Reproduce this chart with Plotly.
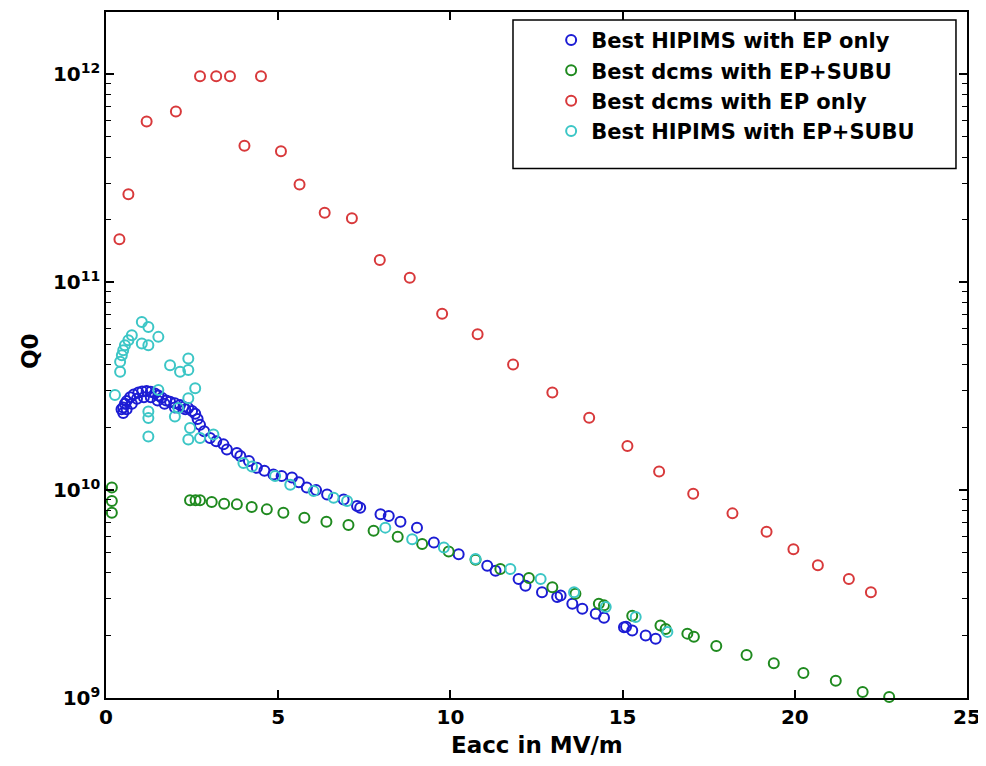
import plotly.graph_objects as go

# ---------------- data ----------------
hipims_ep_x = [0.45, 0.5, 0.55, 0.6, 0.7, 0.8, 0.94, 1.05, 1.18, 1.3, 1.42, 1.52, 1.62, 1.75, 1.86,
               2.0, 2.15, 2.25, 2.39, 2.5, 2.59, 2.66, 2.73, 2.85, 3.02, 3.2, 3.41, 3.51, 3.8, 3.9,
               4.15, 4.38, 4.6, 4.86, 5.1, 5.4, 5.6, 5.83, 6.1, 6.42, 6.9, 7.29, 7.38, 7.97, 8.21,
               8.55, 9.03, 9.52, 10.24, 11.07, 11.31, 11.98, 12.18, 12.66, 13.1, 13.2, 13.54, 13.83,
               14.22, 14.46, 15.04, 15.1, 15.28, 15.67, 15.96,
               0.5, 0.6, 0.75, 0.9, 1.1, 1.3, 1.5, 1.7, 2.0, 2.3]
hipims_ep_y = [2.45e10, 2.5e10, 2.6e10, 2.68e10, 2.8e10, 2.88e10, 2.95e10, 2.98e10, 3.0e10, 2.97e10,
               2.92e10, 2.85e10, 2.78e10, 2.7e10, 2.66e10, 2.62e10, 2.57e10, 2.52e10, 2.48e10, 2.4e10,
               2.33e10, 2.2e10, 2.06e10, 1.92e10, 1.78e10, 1.72e10, 1.66e10, 1.57e10, 1.51e10, 1.46e10,
               1.38e10, 1.28e10, 1.24e10, 1.19e10, 1.17e10, 1.15e10, 1.09e10, 1.03e10, 1.0e10, 9.53e9,
               9.02e9, 8.38e9, 8.23e9, 7.66e9, 7.51e9, 7.05e9, 6.6e9, 5.6e9, 4.92e9, 4.33e9, 4.09e9,
               3.74e9, 3.47e9, 3.23e9, 3.06e9, 3.11e9, 2.84e9, 2.69e9, 2.54e9, 2.43e9, 2.19e9, 2.2e9,
               2.11e9, 2.0e9, 1.93e9,
               2.35e10, 2.45e10, 2.6e10, 2.75e10, 2.8e10, 2.8e10, 2.7e10, 2.6e10, 2.5e10, 2.45e10]

dcms_subu_x = [0.17, 0.17, 0.17, 2.44, 2.6, 2.73, 3.07, 3.43, 3.80, 4.23, 4.67, 5.15, 5.76, 6.40,
               7.04, 7.77, 8.47, 9.18, 9.95, 10.73, 11.45, 12.28, 12.96, 13.63, 14.31, 14.46, 15.28,
               16.10, 16.25, 16.88, 17.07, 17.72, 18.6, 19.39, 20.25, 21.19, 21.97, 22.74]
dcms_subu_y = [1.03e10, 8.86e9, 7.79e9, 8.93e9, 8.95e9, 8.93e9, 8.76e9, 8.59e9, 8.54e9, 8.29e9,
               8.08e9, 7.79e9, 7.37e9, 7.05e9, 6.80e9, 6.37e9, 5.96e9, 5.5e9, 5.07e9, 4.63e9, 4.17e9,
               3.78e9, 3.41e9, 3.17e9, 2.84e9, 2.79e9, 2.49e9, 2.23e9, 2.15e9, 2.04e9, 1.97e9, 1.78e9,
               1.61e9, 1.47e9, 1.32e9, 1.21e9, 1.07e9, 1.01e9]

dcms_ep_x = [0.39, 0.65, 1.18, 2.03, 2.73, 3.2, 3.6, 4.02, 4.5, 5.08, 5.62, 6.35, 7.14, 7.95, 8.82,
             9.76, 10.79, 11.82, 12.96, 14.03, 15.14, 16.06, 17.05, 18.19, 19.18, 19.96, 20.67,
             21.57, 22.21]
dcms_ep_y = [1.61e11, 2.65e11, 5.94e11, 6.63e11, 9.8e11, 9.8e11, 9.8e11, 4.54e11, 9.8e11, 4.27e11,
             2.95e11, 2.16e11, 2.03e11, 1.28e11, 1.05e11, 7.05e10, 5.62e10, 4.02e10, 2.95e10,
             2.23e10, 1.63e10, 1.23e10, 9.6e9, 7.73e9, 6.3e9, 5.2e9, 4.35e9, 3.74e9, 3.23e9]

hipims_subu_x = [0.26, 0.41, 0.41, 0.46, 0.5, 0.55, 0.65, 0.75, 1.04, 1.23, 1.04, 1.23, 1.52, 1.86,
                 2.15, 2.39, 2.39, 1.52, 2.59, 1.23, 1.23, 1.23, 2.0, 2.39, 2.39, 2.1, 2.44, 2.73,
                 3.12, 3.99, 4.24, 4.91, 5.35, 6.03, 6.61, 7.0, 8.11, 8.89, 9.81, 10.73, 11.74,
                 12.62, 13.59, 14.51, 15.38, 16.3]
hipims_subu_y = [2.87e10, 3.71e10, 4.14e10, 4.46e10, 4.71e10, 4.98e10, 5.26e10, 5.56e10, 6.44e10,
                 6.09e10, 5.07e10, 4.98e10, 5.46e10, 3.99e10, 3.71e10, 4.3e10, 3.78e10, 3.03e10,
                 3.09e10, 2.39e10, 2.22e10, 1.81e10, 2.26e10, 2.77e10, 1.75e10, 2.48e10, 1.99e10,
                 1.78e10, 1.85e10, 1.35e10, 1.3e10, 1.17e10, 1.06e10, 9.89e9, 9.19e9, 8.86e9, 6.6e9,
                 5.81e9, 5.3e9, 4.66e9, 4.17e9, 3.74e9, 3.23e9, 2.74e9, 2.45e9, 2.08e9]

names = ["Best HIPIMS with EP only", "Best dcms with EP+SUBU",
         "Best dcms with EP only", "Best HIPIMS with EP+SUBU"]
colors = ["#1c1cd4", "#1f8a1f", "#d8393b", "#3cc6c6"]

x_ticks = [0, 5, 10, 15, 20, 25]
y_ticks = [1e9, 1e10, 1e11, 1e12]
y_ticktext = ["10<sup>9</sup>", "10<sup>10</sup>", "10<sup>11</sup>", "10<sup>12</sup>"]
y_minor = [m * d for d in [1e9, 1e10, 1e11, 1e12] for m in range(2, 10)]

FONT = "DejaVu Sans"

fig = go.Figure()
series = [(hipims_ep_x, hipims_ep_y), (dcms_subu_x, dcms_subu_y),
          (dcms_ep_x, dcms_ep_y), (hipims_subu_x, hipims_subu_y)]
for (xs, ys), nm, c in zip(series, names, colors):
    fig.add_trace(go.Scatter(
        x=xs, y=ys, mode="markers", name=nm, cliponaxis=False,
        marker=dict(symbol="circle-open", size=10, color=c, line=dict(width=2, color=c)),
    ))

axis_common = dict(showline=True, linecolor="black", linewidth=1.5, mirror="ticks",
                   ticks="inside", tickcolor="black", tickwidth=1.5, ticklen=8,
                   showgrid=False, zeroline=False, ticklabeloverflow="allow",
                   tickfont=dict(family=FONT, size=20, color="black", weight="bold"))

fig.update_xaxes(range=[0, 25], tickvals=x_ticks, **axis_common)
fig.update_yaxes(type="log", range=[9, 12.3], tickvals=y_ticks, ticktext=y_ticktext,
                 minor=dict(ticks="inside", ticklen=5, tickcolor="black", tickwidth=1.2,
                            tickvals=y_minor),
                 **axis_common)

# legend box
fig.add_shape(type="rect", xref="paper", yref="paper", x0=0.4727, x1=0.9872, y0=0.7718, y1=0.9884,
              line=dict(color="black", width=1.5), fillcolor="white", layer="above")

fig.add_annotation(text="<b>Eacc in MV/m</b>", xref="paper", yref="paper", x=0.5006, y=-0.0683,
                   xanchor="center", yanchor="middle",
                   showarrow=False, font=dict(family=FONT, size=23, color="black"))
fig.add_annotation(text="<b>Q0</b>", xref="paper", yref="paper", x=-0.0883, y=0.5058,
                   xanchor="center", yanchor="middle",
                   textangle=-90, showarrow=False, font=dict(family=FONT, size=23, color="black"))

fig.update_layout(
    width=978, height=758,
    margin=dict(l=98, r=19, t=2, b=68),
    paper_bgcolor="white", plot_bgcolor="white",
    showlegend=True,
    legend=dict(x=0.517, y=0.9885, xanchor="left", yanchor="top",
                bgcolor="rgba(0,0,0,0)", borderwidth=0,
                font=dict(family=FONT, size=21, color="black", weight="bold"),
                itemsizing="trace"),
)

fig.write_html("out.html")
